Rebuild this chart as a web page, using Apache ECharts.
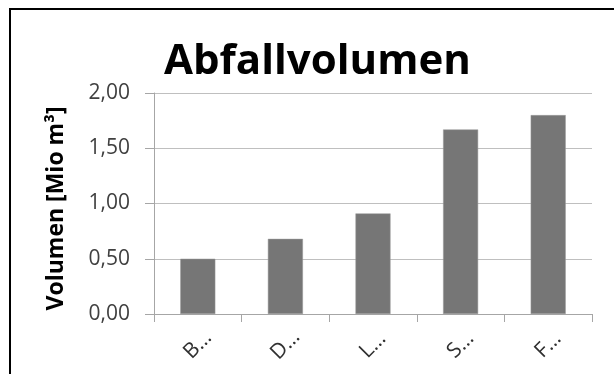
<!DOCTYPE html>
<html>
<head>
<meta charset="utf-8">
<script src="https://cdn.jsdelivr.net/npm/echarts@6/dist/echarts.min.js"></script>
<style>
  html, body { margin: 0; padding: 0; background: #ffffff; }
  #chart { width: 614px; height: 374px; }
</style>
</head>
<body>
<div id="chart"></div>
<script>
// Waste volume per site, in million cubic metres
const categories = ['B…', 'D…', 'L…', 'S…', 'F…'];
const volumes = [0.50, 0.68, 0.91, 1.67, 1.80];
const yTicks = [0, 0.5, 1.0, 1.5, 2.0];

const chart = echarts.init(document.getElementById('chart'), null, { renderer: 'canvas' });

chart.setOption({
  backgroundColor: '#ffffff',
  animation: false,
  title: {
    text: 'Abfallvolumen',
    left: 159,
    top: 36,
    textStyle: {
      fontFamily: 'Open Sans',
      fontWeight: 'bold',
      fontSize: 42,
      color: '#000000'
    }
  },
  graphic: [{
    type: 'rect',
    shape: { x: 10, y: 9, width: 800, height: 600 },
    style: { fill: 'none', stroke: '#000000', lineWidth: 2 },
    silent: true
  }],
  grid: { left: 154, right: 22, top: 93, bottom: 60 },
  xAxis: {
    type: 'category',
    data: categories,
    boundaryGap: true,
    axisLine: { show: true, lineStyle: { color: '#a6a6a6', width: 1 } },
    axisTick: { show: true, alignWithLabel: false, length: 8, lineStyle: { color: '#a6a6a6' } },
    axisLabel: {
      rotate: 45,
      align: 'center',
      verticalAlign: 'middle',
      margin: 31,
      fontFamily: 'Open Sans',
      fontSize: 21,
      color: '#303030'
    }
  },
  yAxis: {
    type: 'value',
    min: yTicks[0],
    max: yTicks[yTicks.length - 1],
    interval: 0.5,
    name: 'Volumen [Mio m³]',
    nameLocation: 'middle',
    nameGap: 86,
    nameRotate: 90,
    nameTextStyle: {
      fontFamily: 'Open Sans',
      fontWeight: 'bold',
      fontSize: 23,
      color: '#000000',
      padding: [0, 10, 0, 0]
    },
    axisLine: { show: true, lineStyle: { color: '#a6a6a6', width: 1 } },
    axisTick: { show: true, inside: false, length: 9, lineStyle: { color: '#a6a6a6' } },
    splitLine: { show: true, lineStyle: { color: '#bfbfbf', width: 1 } },
    axisLabel: {
      margin: 24,
      fontFamily: 'Open Sans',
      fontSize: 21,
      color: '#404040',
      formatter: v => v.toFixed(2).replace('.', ',')
    }
  },
  series: [{
    type: 'bar',
    data: volumes,
    barWidth: '40%',
    itemStyle: { color: '#767676', borderColor: '#9a9a9a', borderWidth: 0.5 }
  }]
});
</script>
</body>
</html>
